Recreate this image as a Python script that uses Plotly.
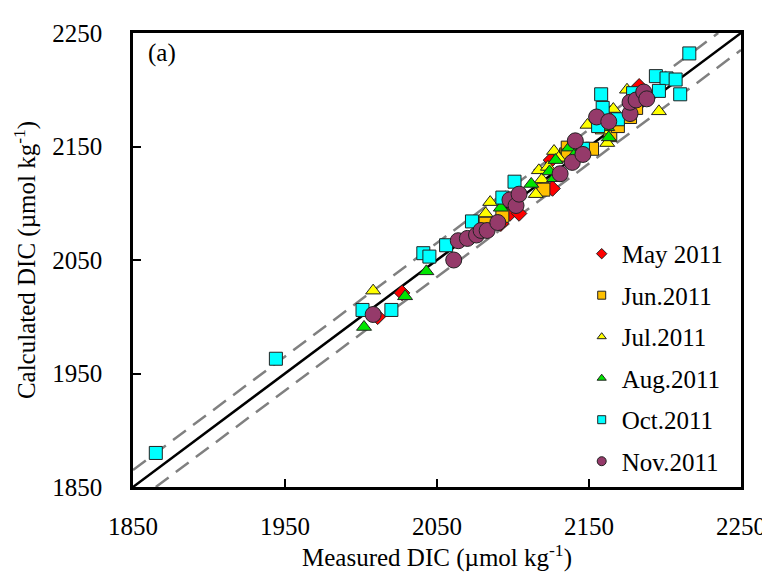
import plotly.graph_objects as go

# ---- data ----
may_x = [2011, 2027, 2092, 2098, 2104, 2126, 2125, 2132, 2164, 2183]
may_y = [2000, 2021, 2082, 2091, 2091, 2113, 2138, 2142, 2179, 2203]

jun_x = [2082, 2093, 2120, 2135, 2136, 2136, 2152, 2164, 2169, 2177, 2181]
jun_y = [2082, 2089, 2112, 2143, 2149, 2142, 2148, 2160, 2168, 2176, 2184]

jul_x = [2008, 2085, 2082, 2117, 2115, 2127, 2119, 2123, 2162, 2166, 2196, 2175, 2159, 2149, 2130, 2140]
jul_y = [2023, 2101, 2091, 2129, 2108, 2146, 2121, 2132, 2153, 2183, 2181, 2200, 2164, 2169, 2140, 2150]

aug_x = [2002, 2029, 2043, 2092, 2112, 2124, 2128, 2137, 2140, 2163, 2127, 2162]
aug_y = [1991, 2018, 2040, 2096, 2117, 2128, 2138, 2149, 2142, 2158, 2122, 2167]

oct_x = [1865, 1944, 2001, 2020, 2041, 2045, 2056, 2073, 2093, 2101, 2146, 2158, 2159,
         2169, 2156, 2179, 2216, 2194, 2201, 2207, 2196, 2210]
oct_y = [1880, 1963, 2006, 2006, 2056, 2053, 2063, 2084, 2105, 2119, 2148, 2196, 2184,
         2174, 2168, 2197, 2232, 2212, 2210, 2209, 2199, 2196]

nov_x = [2008, 2061, 2064, 2070, 2076, 2079, 2083, 2090, 2098, 2102, 2104, 2131, 2139,
         2141, 2146, 2155, 2163, 2177, 2177, 2181, 2186, 2188]
nov_y = [2002, 2050, 2067, 2069, 2072, 2076, 2076, 2083, 2103, 2098, 2108, 2126, 2136,
         2155, 2143, 2176, 2172, 2179, 2189, 2191, 2198, 2192]

line_x = [1850, 2250]
line_y = [1850, 2250]
upper_x = [1850, 2235]
upper_y = [1865, 2250]
lower_x = [1865, 2250]
lower_y = [1850, 2235]

tick_vals = [1850, 1950, 2050, 2150, 2250]

series = [
    ("May 2011", may_x, may_y, "diamond", "#FF0000", 12, 8),
    ("Jun.2011", jun_x, jun_y, "square", "#FFC000", 13, 8),
    ("Jul.2011", jul_x, jul_y, "triangle-up", "#FFFF00", 13, 8),
    ("Aug.2011", aug_x, aug_y, "triangle-up", "#00E600", 13, 8),
    ("Oct.2011", oct_x, oct_y, "square", "#00FFFF", 13, 8),
    ("Nov.2011", nov_x, nov_y, "circle", "#953A6A", 16, 9),
]

fig = go.Figure()

fig.add_trace(go.Scatter(x=upper_x, y=upper_y, mode="lines", showlegend=False,
                         line=dict(color="#808080", width=2.5, dash="16px,9px")))
fig.add_trace(go.Scatter(x=lower_x, y=lower_y, mode="lines", showlegend=False,
                         line=dict(color="#808080", width=2.5, dash="16px,9px")))
fig.add_trace(go.Scatter(x=line_x, y=line_y, mode="lines", showlegend=False,
                         line=dict(color="black", width=2.5)))

for name, xs, ys, sym, col, sz, lsz in series:
    fig.add_trace(go.Scatter(x=xs, y=ys, mode="markers", showlegend=False,
                             marker=dict(symbol=sym, color=col, size=sz,
                                         line=dict(color="#222222", width=1))))
for name, xs, ys, sym, col, sz, lsz in series:
    fig.add_trace(go.Scatter(x=[None], y=[None], mode="markers", name=name,
                             legendgroup=name,
                             marker=dict(symbol=sym, color=col, size=lsz,
                                         line=dict(color="#222222", width=1))))

axis_common = dict(
    range=[1850, 2250], tickvals=tick_vals, ticks="inside", ticklen=8, tickwidth=2,
    tickcolor="black", showline=True, linecolor="black", linewidth=2.5, mirror=True,
    showgrid=False, zeroline=False, tickfont=dict(size=25, color="black"),
)

# the page body adds an 8px offset, so margins are shifted to compensate
fig.update_layout(
    width=770, height=572,
    margin=dict(l=125, r=33, t=18, b=93),
    paper_bgcolor="white", plot_bgcolor="white",
    font=dict(family="Liberation Serif, Times New Roman, serif", color="black", size=25),
    xaxis=dict(**axis_common, ticklabelstandoff=15,
               title=dict(text="Measured DIC (µmol kg<sup>-1</sup>)", font=dict(size=25), standoff=0)),
    yaxis=dict(**axis_common, ticklabelstandoff=23,
               title=dict(text="Calculated DIC (µmol kg<sup>-1</sup>)", font=dict(size=25), standoff=10)),
    legend=dict(x=0.738, y=0.564, xanchor="left", yanchor="top", bgcolor="rgba(0,0,0,0)",
                font=dict(size=25), tracegroupgap=6, itemwidth=30),
    annotations=[dict(text="(a)", x=0.022, y=0.955, xref="paper", yref="paper",
                      xanchor="left", yanchor="middle", showarrow=False, font=dict(size=25))],
)

fig.write_html("out.html")
